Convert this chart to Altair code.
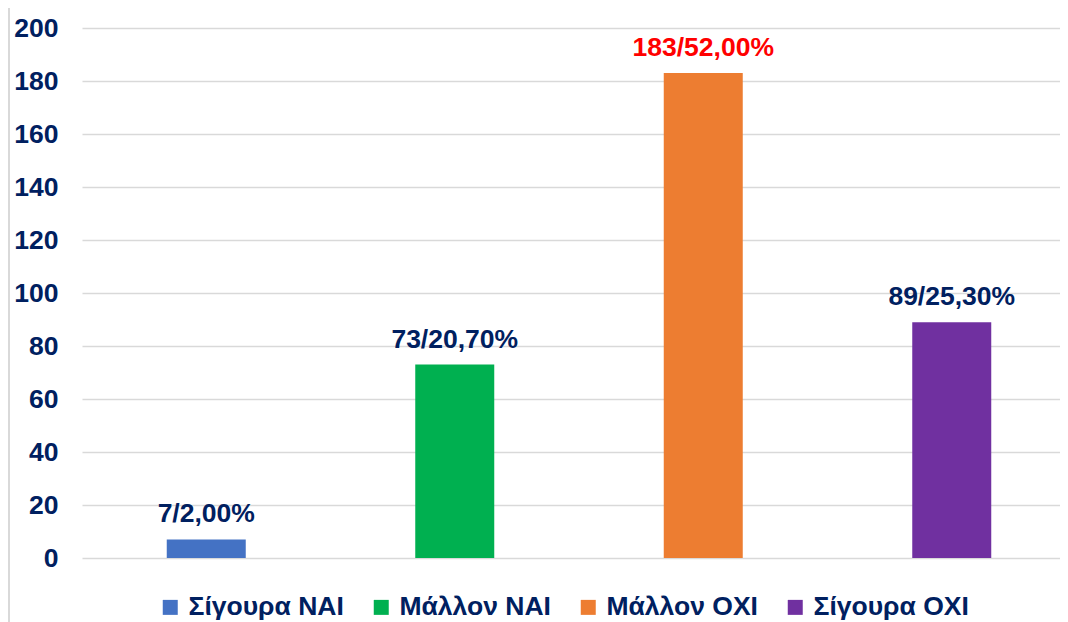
import altair as alt
import pandas as pd

categories = ["Σίγουρα ΝΑΙ", "Μάλλον ΝΑΙ", "Μάλλον ΟΧΙ", "Σίγουρα ΟΧΙ"]
values = [7, 73, 183, 89]
labels = ["7/2,00%", "73/20,70%", "183/52,00%", "89/25,30%"]
colors = ["#4472C4", "#00B050", "#ED7D31", "#7030A0"]
label_colors = ["#002060", "#002060", "#FF0000", "#002060"]
y_ticks = [0, 20, 40, 60, 80, 100, 120, 140, 160, 180, 200]

df = pd.DataFrame({"cat": categories, "val": values, "lab": labels, "lc": label_colors})

FONT = "Liberation Sans"
NAVY = "#002060"
FS = 26.5

x = alt.X("cat:N", sort=categories, axis=None,
          scale=alt.Scale(range=[0, 994], paddingInner=0, paddingOuter=0))
y = alt.Y("val:Q", scale=alt.Scale(domain=[0, 200], nice=False),
          axis=alt.Axis(values=y_ticks, title=None, domain=False, ticks=False,
                        labelFont=FONT, labelFontSize=FS, labelFontWeight="bold",
                        labelColor=NAVY, labelPadding=24,
                        gridColor="#D9D9D9", gridWidth=1.5))

bars = alt.Chart(df).mark_bar(size=79).encode(
    x=x, y=y,
    color=alt.Color("cat:N", sort=categories,
                    scale=alt.Scale(domain=categories, range=colors),
                    legend=alt.Legend(orient="none", legendX=75, legendY=566,
                                      direction="horizontal", title=None,
                                      symbolType="square", symbolSize=225,
                                      symbolStrokeWidth=0, symbolOpacity=1,
                                      labelFont=FONT, labelFontSize=FS,
                                      labelFontWeight="bold", labelColor=NAVY,
                                      labelLimit=300, labelOffset=5, columnPadding=24,
                                      symbolOffset=0, padding=0)),
)

text = alt.Chart(df).mark_text(font=FONT, fontSize=FS, fontWeight="bold",
                               baseline="alphabetic", dy=-17).encode(
    x=alt.X("cat:N", sort=categories, axis=None),
    y=alt.Y("val:Q"),
    text="lab:N",
    color=alt.Color("lc:N", scale=None),
)

border = alt.Chart(df).mark_rule(color="#D9D9D9", strokeWidth=2).encode(
    x=alt.value(-73), y=alt.value(-40), y2=alt.value(640)
)

chart = alt.layer(bars, text, border).properties(
    width=978, height=530,
    autosize=alt.AutoSizeParams(type="none"),
    padding={"left": 74, "top": 20, "right": 0, "bottom": 70},
).configure_view(stroke=None)

chart.save("out.html", embed_options={"renderer": "svg", "actions": False})
